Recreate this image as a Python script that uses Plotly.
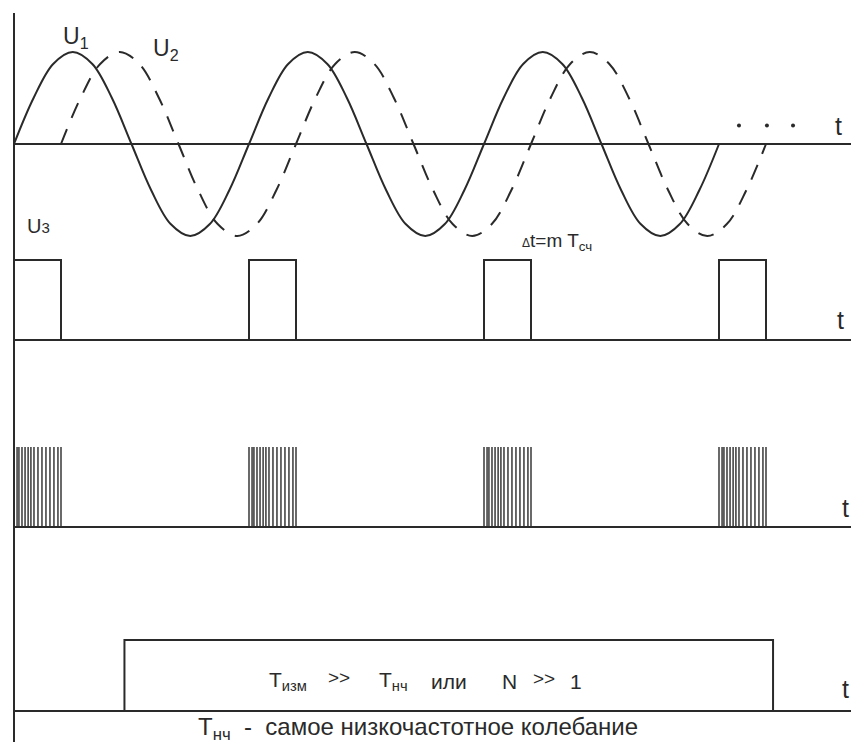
import plotly.graph_objects as go

# ---------------- data ----------------
# time is measured in periods of the HF signal (1 period = one full sine)
wave_shape = [0, 0.5, 0.87, 1, 0.87, 0.5, 0, -0.5, -0.87, -1, -0.87, -0.5]  # U1 over one period, 1/12 steps
n_periods = 3
u1_start = 0.0
u2_delay = 0.2                                          # U2 lags U1 by 0.2 period
pulse_starts = [0.0, 1.0, 2.0, 3.0]                     # U3 pulse fronts
pulse_width = 0.2                                       # = delay between U1 and U2
pulse_height = 1.0
burst_offsets = [0.0, 0.013, 0.021, 0.034, 0.047, 0.060, 0.072, 0.085,
                 0.102, 0.119, 0.136, 0.153, 0.170, 0.187, 0.200]
meas_start, meas_end = 0.47, 3.23                       # measurement window
ellipsis_t = [3.085, 3.204, 3.315]
ellipsis_v = [0.2, 0.2, 0.2]

# ---------------- layout geometry ----------------
W, H = 851, 744
X0, T_PX = 14, 235                      # pixel of t=0, pixels per period
rows = {"y": (144, 92), "y2": (340, 80), "y3": (527, 80), "y4": (711, 71)}  # baseline px, px per unit
INK = "#2a2a2a"
FONT = "Liberation Sans, Arial, sans-serif"

def px_x(p):
    return p / W

def px_y(p):
    return 1 - p / H

fig = go.Figure()

# U1 and U2
n_pts = len(wave_shape)
u1_t = [u1_start + k / n_pts for k in range(n_pts * n_periods + 1)]
u1_v = wave_shape * n_periods + [0]
u2_t = [t + u2_delay for t in u1_t]
u2_v = list(u1_v)

fig.add_trace(go.Scatter(x=u1_t, y=u1_v, mode="lines", yaxis="y",
                         line=dict(color=INK, width=2, shape="spline", smoothing=1.0)))
fig.add_trace(go.Scatter(x=u2_t, y=u2_v, mode="lines", yaxis="y",
                         line=dict(color=INK, width=2, shape="spline", smoothing=1.0,
                                   dash="16px,12px")))
fig.add_trace(go.Scatter(x=ellipsis_t, y=ellipsis_v, mode="markers", yaxis="y",
                         marker=dict(color=INK, size=4)))

# U3 rectangular pulses
px_, py_ = [], []
for s in pulse_starts:
    px_ += [s, s, s + pulse_width, s + pulse_width, None]
    py_ += [0, pulse_height, pulse_height, 0, None]
fig.add_trace(go.Scatter(x=px_, y=py_, mode="lines", yaxis="y2",
                         line=dict(color=INK, width=2)))

# HF bursts inside each pulse
bx, by = [], []
for s in pulse_starts:
    for o in burst_offsets:
        bx += [s + o, s + o, None]
        by += [0, pulse_height, None]
fig.add_trace(go.Scatter(x=bx, y=by, mode="lines", yaxis="y3",
                         line=dict(color=INK, width=1.4)))

# measurement window
fig.add_trace(go.Scatter(x=[meas_start, meas_start, meas_end, meas_end],
                         y=[0, 1, 1, 0], mode="lines", yaxis="y4",
                         line=dict(color=INK, width=2)))

# baselines and vertical axis
shapes = []
for ax, (b, s) in rows.items():
    shapes.append(dict(type="line", xref="paper", yref="paper",
                       x0=px_x(X0), x1=px_x(851), y0=px_y(b), y1=px_y(b),
                       line=dict(color=INK, width=2)))
shapes.append(dict(type="line", xref="paper", yref="paper",
                   x0=px_x(X0), x1=px_x(X0), y0=px_y(13), y1=px_y(742),
                   line=dict(color=INK, width=2)))

annotations = []
def ann(text, x, y, size, xanchor="left"):
    annotations.append(dict(text=text, x=px_x(x), y=px_y(y), xref="paper", yref="paper",
                            xanchor=xanchor, yanchor="middle", showarrow=False,
                            font=dict(family=FONT, size=size, color=INK)))

ann("U<sub>1</sub>", 61, 38, 23)
ann("U<sub>2</sub>", 151, 50, 23)
ann("U<span style='font-size:15px'>3</span>", 25, 226, 20)
ann("<span style='font-size:12px'>Δ</span>t=m T<sub>сч</sub>", 520, 242, 19)
ann("t", 838, 126, 25, "center")
ann("t", 840, 320, 25, "center")
ann("t", 845, 508, 25, "center")
ann("t", 845, 689, 25, "center")

ann("T<sub>изм</sub>", 267, 681, 21)
ann("&gt;&gt;", 339, 677, 19, "center")
ann("T<sub>нч</sub>", 377, 681, 21)
ann("или", 449, 681, 21, "center")
ann("N", 509, 681, 21, "center")
ann("&gt;&gt;", 544, 678, 19, "center")
ann("1", 576, 681, 21, "center")
ann("T<sub>нч</sub>\u00a0\u00a0-\u00a0\u00a0самое низкочастотное колебание", 196, 728, 24)

layout_axes = {}
for ax, (b, s) in rows.items():
    key = "yaxis" if ax == "y" else "yaxis" + ax[1:]
    cfg = dict(range=[-(H - b) / s, b / s], visible=False, fixedrange=True)
    if ax != "y":
        cfg["overlaying"] = "y"
    layout_axes[key] = cfg

fig.update_layout(
    width=W, height=H, margin=dict(l=0, r=0, t=0, b=0),
    paper_bgcolor="white", plot_bgcolor="white", showlegend=False,
    xaxis=dict(range=[-X0 / T_PX, (W - X0) / T_PX], visible=False, fixedrange=True),
    shapes=shapes, annotations=annotations, **layout_axes,
)

fig.write_html("out.html", config={"displayModeBar": False},
               post_script="document.body.style.margin='0';document.body.style.overflow='hidden';")
